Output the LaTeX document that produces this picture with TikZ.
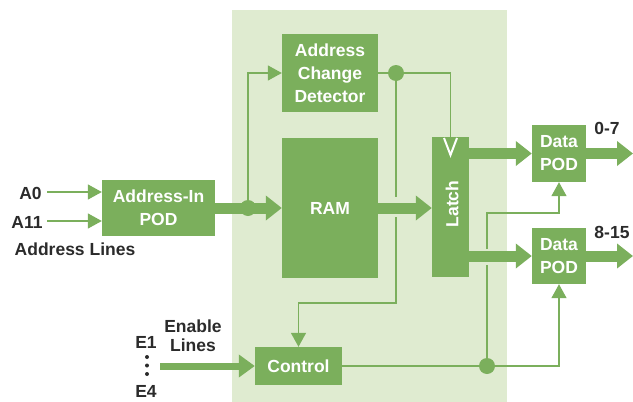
\documentclass[tikz,border=0pt]{standalone}
\usepackage{fontspec}
\setmainfont{Liberation Sans}
\usetikzlibrary{arrows.meta}
\definecolor{dg}{HTML}{7BAF5C}
\definecolor{lg}{HTML}{DFEBD0}
\definecolor{tx}{HTML}{2B2B2B}
\begin{document}
\begin{tikzpicture}[x=1pt,y=-1pt,
 box/.style={fill=dg, draw=none, text=white, font=\fontsize{17.5}{23}\selectfont\bfseries, align=center, inner sep=0pt},
 thinline/.style={draw=dg, line width=1.5pt},
 thinarr/.style={thinline, -{Triangle[length=14pt,width=15pt]}},
 thickarr/.style={draw=dg, line width=11pt, -{Triangle[length=16pt,width=24pt]}},
 enarr/.style={draw=dg, line width=7pt, -{Triangle[length=16pt,width=22pt]}},
 lbl/.style={text=tx, font=\fontsize{17.5}{21}\selectfont\bfseries, inner sep=0pt},
 dotnode/.style={circle, fill=dg, minimum size=16pt, inner sep=0pt}]
\useasboundingbox (0,0) rectangle (633,402);
\fill[lg] (232,10) rectangle (507,402);
% boxes
\node[box, minimum width=113pt, minimum height=56pt] (ain) at (158.5,208) {Address-In\\POD};
\node[box, minimum width=96pt, minimum height=78pt] (acd) at (330,73) {Address\\Change\\Detector};
\node[box, minimum width=96pt, minimum height=140pt] (ram) at (330,208) {RAM};
\node[box, minimum width=37pt, minimum height=140pt] (latch) at (450.5,207) {};
\node[box, rotate=90, fill=none] (latchtxt) at (452,204) {Latch};
\node[box, minimum width=54pt, minimum height=57pt] (pod1) at (559,153.5) {Data\\POD};
\node[box, minimum width=54pt, minimum height=56pt] (pod2) at (559,256) {Data\\POD};
\node[box, minimum width=87pt, minimum height=38pt] (ctrl) at (298.5,366) {Control};
% clock V in latch
\draw[white, line width=2pt] (444,138) -- (450.5,155) -- (457,138);
% coordinates
\coordinate (a0s) at (47,192);
\coordinate (a11s) at (47,221);
\coordinate (ein) at (160,366);
\coordinate (o1) at (633,153.5);
\coordinate (o2) at (633,256);
\coordinate (c1) at (396,197);
\coordinate (c2) at (396,217);
\coordinate (c3) at (396,303);
\coordinate (c4) at (487,265);
\coordinate (c5) at (487,249);
\coordinate (c6) at (487,213);
% inputs
\draw[thinarr] (a0s) -- (a0s -| ain.west);
\draw[thinarr] (a11s) -- (a11s -| ain.west);
\draw[enarr] (ein) -- (ctrl);
% thick data paths
\draw[thickarr] (ain) -- (ram);
\draw[thickarr] (ram.east) -- (ram.east -| latch.west);
\draw[thickarr] (latch.east |- pod1) -- (pod1);
\draw[thickarr] (latch.east |- pod2) -- (pod2);
\draw[thickarr] (pod1) -- (o1);
\draw[thickarr] (pod2) -- (o2);
% dots
\node[dotnode] (d1) at (248,208) {};
\node[dotnode] (d2) at (396,73) {};
\node[dotnode] (d3) at (487,366) {};
% thin control lines
\draw[thinarr] (d1) |- (acd);
\draw[thinline] (acd) -- (d2);
\draw[thinline] (d2) -| (latch.north);
\draw[thinline] (d2) -- (c1);
\draw[thinarr] (c2) -- (c3) -| (ctrl);
\draw[thinline] (ctrl) -- (d3);
\draw[thinarr] (d3) -| (pod2);
\draw[thinline] (d3) -- (c4);
\draw[thinarr] (c5) -- (c6) -| (pod1);
% labels
\node[lbl] (la0) at (30.5,193) {A0};
\node[lbl] (la11) at (27,222) {A11};
\node[lbl] (lal) at (75,249) {Address Lines};
\node[lbl] (len) at (193,326) {Enable};
\node[lbl] (lli) at (193,345) {Lines};
\node[lbl] (le1) at (146,342) {E1};
\node[lbl] (le4) at (146,391) {E4};
\fill[tx] (147,357) circle (2pt) (147,365.5) circle (2pt) (147,374) circle (2pt);
\node[lbl] (l07) at (607,128) {0-7};
\node[lbl] (l815) at (612,232) {8-15};
\end{tikzpicture}
\end{document}
